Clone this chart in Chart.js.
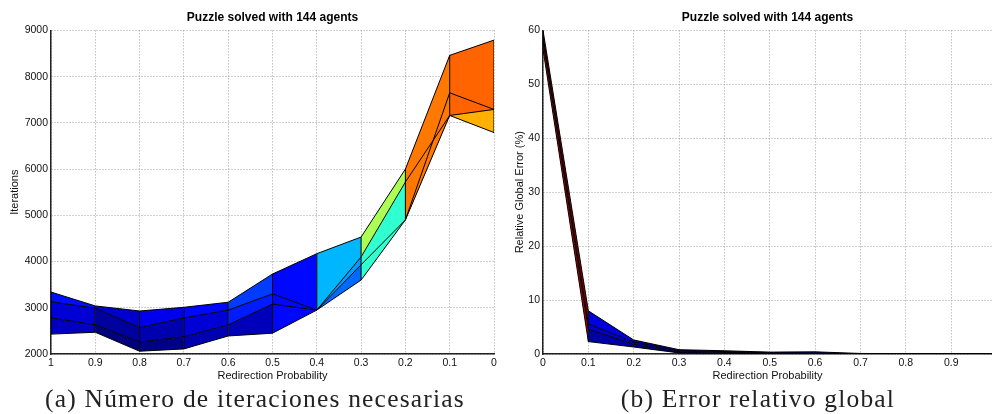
<!DOCTYPE html>
<html>
<head>
<meta charset="utf-8">
<title>Puzzle solved with 144 agents</title>
<script src="https://cdn.jsdelivr.net/npm/chart.js@4.4.1/dist/chart.umd.min.js"></script>
<style>
  body { margin: 0; background: #fff; width: 992px; height: 414px; overflow: hidden; position: relative; }
  .box { position: absolute; top: 0; height: 386px; }
  .cap { position: absolute; top: 385px; font-family: "Liberation Serif", "DejaVu Serif", serif; font-size: 25.5px;
         letter-spacing: 1.2px; line-height: 28px; white-space: nowrap; transform: translateX(-50%); color: #222; }
</style>
</head>
<body>
<div class="box" style="left:0;width:500px"><canvas id="iterChart"></canvas></div>
<div class="box" style="left:500px;width:492px"><canvas id="errChart"></canvas></div>
<div class="cap" style="left:255px">(a) Número de iteraciones necesarias</div>
<div class="cap" style="left:758px">(b) Error relativo global</div>
<script>
// redirection probability columns and the four runs of each surface
const probIter = [1, 0.9, 0.8, 0.7, 0.6, 0.5, 0.4, 0.3, 0.2, 0.1, 0];
const iterRun1 = [3340, 3040, 2930, 3010, 3120, 3730, 4170, 4530, 6000, 8460, 8790];
const iterRun2 = [3130, 2990, 2570, 2780, 2950, 3300, 2950, 4100, 5720, 7160, 7290];
const iterRun3 = [2780, 2630, 2260, 2370, 2630, 3080, 2950, 3930, 4900, 7160, 6790];
const iterRun4 = [2430, 2470, 2060, 2110, 2390, 2450, 2950, 3600, 4900, 7650, 7290];

const probErr = [0, 0.1, 0.2, 0.3, 0.4, 0.5, 0.6, 0.7, 0.8, 0.9, 1];
const errRun1 = [60.0, 8.0, 2.6, 0.8, 0.6, 0.35, 0.4, 0.1, 0.05, 0.05, 0.05];
const errRun2 = [59.0, 5.6, 2.2, 0.6, 0.45, 0.2, 0.15, 0, 0, 0, 0];
const errRun3 = [58.0, 4.6, 1.8, 0.4, 0.3, 0.1, 0.05, 0, 0, 0, 0];
const errRun4 = [56.5, 2.3, 1.3, 0.2, 0.1, 0, 0, 0, 0, 0, 0];

const probTicks = [0, 0.1, 0.2, 0.3, 0.4, 0.5, 0.6, 0.7, 0.8, 0.9, 1];

Chart.defaults.font.family = '"Liberation Sans", Arial, sans-serif';
Chart.defaults.color = '#111';

// matlab style jet colormap, t in [0,1]
function jet(t) {
  const f = v => Math.round(255 * Math.max(0, Math.min(1, v)));
  return `rgb(${f(1.5 - Math.abs(4 * t - 3))},${f(1.5 - Math.abs(4 * t - 2))},${f(1.5 - Math.abs(4 * t - 1))})`;
}

function surfaceChart(canvasId, probs, runs, opts) {
  const all = runs.flat();
  const zMin = Math.min(...all), zMax = Math.max(...all);

  const datasets = runs.map((run, k) => ({
    data: probs.map((p, j) => ({ x: p, y: run[j] })),
    borderColor: '#000',
    borderWidth: 1,
    pointRadius: 0,
    fill: k === 0 ? false : '-1',
    segment: {
      // face colour taken from the corner at the smaller probability
      backgroundColor: c => {
        const j = probs[c.p0DataIndex] < probs[c.p1DataIndex] ? c.p0DataIndex : c.p1DataIndex;
        return jet((run[j] - zMin) / (zMax - zMin));
      }
    }
  }));

  // column edges of the mesh
  probs.forEach((p, j) => {
    const col = runs.map(r => r[j]);
    datasets.push({
      data: [{ x: p, y: Math.min(...col) }, { x: p, y: Math.max(...col) }],
      borderColor: '#000',
      borderWidth: 1,
      pointRadius: 0,
      fill: false
    });
  });

  const tickFont = { size: 10.5 };
  return new Chart(document.getElementById(canvasId), {
    type: 'line',
    data: { datasets },
    options: {
      responsive: true,
      maintainAspectRatio: false,
      animation: false,
      layout: { padding: { left: 0, right: opts.padRight, top: 0, bottom: 0 } },
      scales: {
        x: {
          type: 'linear',
          reverse: opts.reverse,
          min: 0,
          max: opts.xMax,
          afterBuildTicks: s => { s.ticks = probTicks.filter(v => v <= opts.xMax).map(v => ({ value: v })); },
          afterFit: s => { s.height = 32; },
          ticks: { font: tickFont, color: '#111', padding: 3, maxRotation: 0, autoSkip: false,
                   callback: v => Number(v.toFixed(1)).toString() },
          grid: { color: '#a0a0a0', drawTicks: false },
          border: { color: '#222', width: 1.5, dash: [1, 2] },
          title: { display: true, text: 'Redirection Probability', font: { size: 11 }, color: '#111',
                   padding: { top: 0, bottom: 3 } }
        },
        y: {
          min: opts.yMin,
          max: opts.yMax,
          afterFit: s => { s.width = opts.yWidth; },
          ticks: { stepSize: opts.yStep, font: tickFont, color: '#111', padding: 3, callback: v => String(v) },
          grid: { color: '#a0a0a0', drawTicks: false },
          border: { color: '#222', width: 1.5, dash: [1, 2] },
          title: { display: true, text: opts.yTitle, font: { size: 11 }, color: '#111',
                   padding: { top: opts.yTitlePad, bottom: 0 } }
        }
      },
      plugins: {
        legend: { display: false },
        tooltip: { enabled: false },
        filler: { drawTime: 'beforeDatasetsDraw' },
        title: {
          display: true,
          text: 'Puzzle solved with 144 agents',
          fullSize: false,
          color: '#000',
          font: { size: 12, weight: 'bold' },
          padding: { top: 10, bottom: 6 }
        }
      }
    }
  });
}

surfaceChart('iterChart', probIter, [iterRun1, iterRun2, iterRun3, iterRun4], {
  reverse: true, xMax: 1, yMin: 2000, yMax: 9000, yStep: 1000,
  yTitle: 'Iterations', yWidth: 51, yTitlePad: 8, padRight: 6
});

surfaceChart('errChart', probErr, [errRun1, errRun2, errRun3, errRun4], {
  reverse: false, xMax: 0.99, yMin: 0, yMax: 60, yStep: 10,
  yTitle: 'Relative Global Error (%)', yWidth: 43, yTitlePad: 13, padRight: 0
});
</script>
</body>
</html>
